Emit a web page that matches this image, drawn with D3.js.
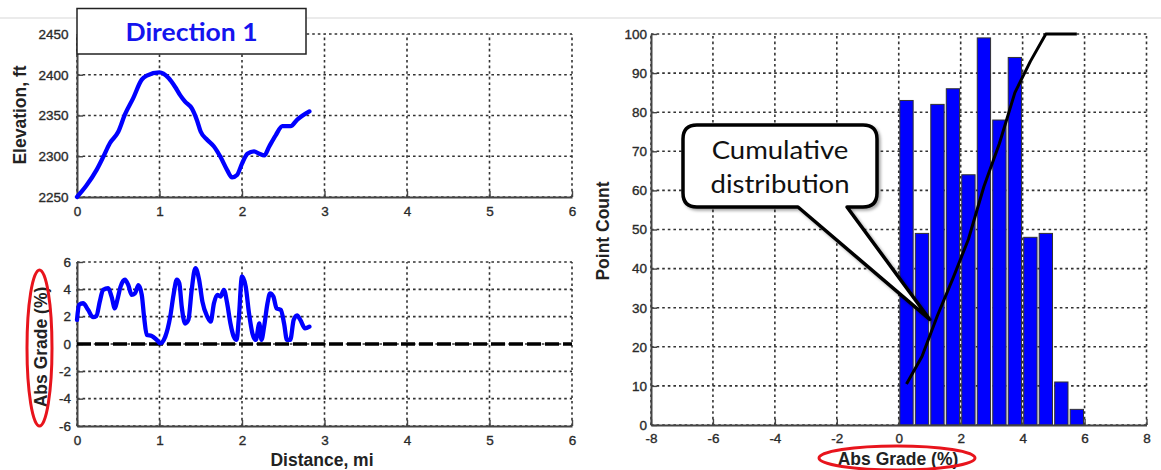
<!DOCTYPE html>
<html><head><meta charset="utf-8">
<script src="https://cdn.jsdelivr.net/npm/d3@7"></script>
<style>body{margin:0;background:#fff} svg{display:block}</style>
</head><body><svg id="c" width="1161" height="470"></svg>
<script>
// ---- data ----
const elevDist = [0,0.114,0.236,0.317,0.398,0.5,0.58,0.68,0.785,0.846,1.0,1.11,1.19,1.25,1.31,1.39,1.455,1.5,1.58,1.66,1.74,1.82,1.88,1.94,2.0,2.065,2.146,2.21,2.27,2.33,2.41,2.49,2.59,2.67,2.817];
const elevFt   = [2250,2264,2283,2299,2316,2330,2351,2371,2394,2399,2403,2396,2385,2375,2367,2359,2344,2330,2320,2312,2299,2283,2274,2277,2291,2303,2306,2303,2301,2312,2326,2337,2337,2345,2355];
const gradeDist = [0,0.024,0.073,0.134,0.195,0.236,0.276,0.317,0.378,0.419,0.459,0.488,0.528,0.581,0.622,0.663,0.703,0.744,0.785,0.813,0.846,0.906,0.967,1.008,1.07,1.13,1.17,1.21,1.24,1.27,1.31,1.35,1.39,1.435,1.48,1.52,1.58,1.62,1.66,1.70,1.74,1.78,1.82,1.86,1.90,1.935,1.96,2.0,2.045,2.085,2.126,2.167,2.21,2.236,2.268,2.309,2.34,2.38,2.42,2.47,2.51,2.545,2.585,2.626,2.667,2.707,2.764,2.817];
const gradePct  = [1.76,2.86,2.98,2.5,1.96,2.05,3.1,3.96,4.08,3.47,2.6,3.2,4.2,4.7,4.3,3.6,3.7,4.3,3.6,2.0,0.66,0.59,0.3,0.05,0.54,2.0,3.6,4.7,4.45,2.7,1.5,1.76,3.96,5.55,4.7,3.1,2.0,1.64,2.98,3.6,3.47,3.96,2.98,1.5,0.54,0.3,1.76,4.94,4.2,2.25,0.78,0.3,1.5,0.3,1.27,2.98,3.7,3.47,2.6,2.5,1.5,0.3,0.3,1.76,2.1,1.76,1.15,1.27];
const zeroLine = [0,6];
const histCenters = [0.25,0.75,1.25,1.75,2.25,2.75,3.25,3.75,4.25,4.75,5.25,5.75];
const histCounts  = [83,49,82,86,64,99,78,94,48,49,11,4];
const cumPct      = [10.5,17.5,28,37.5,47.5,61,72,85,93,100,100,100];
const distTicks  = [0,1,2,3,4,5,6];
const elevTicks  = [2250,2300,2350,2400,2450];
const gradeTicks = [-6,-4,-2,0,2,4,6];
const absTicks   = [-8,-6,-4,-2,0,2,4,6,8];
const countTicks = [0,10,20,30,40,50,60,70,80,90,100];

// ---- setup ----
const svg = d3.select('#c');
const TICKFONT = '13.5px "Liberation Sans", Arial, sans-serif';
const LABELFONT = 'bold 17.5px "Liberation Sans", Arial, sans-serif';

const defs = svg.append('defs');
const f = defs.append('filter').attr('id','shadow').attr('x','-20%').attr('y','-20%').attr('width','140%').attr('height','140%');
f.append('feDropShadow').attr('dx',2).attr('dy',2).attr('stdDeviation',1.5).attr('flood-color','#000').attr('flood-opacity',0.35);

// top gray page line
svg.append('line').attr('x1',0).attr('x2',1161).attr('y1',18).attr('y2',18)
  .attr('stroke','#d8d8d8').attr('stroke-width',1.2);

function grid(g, x, y, xt, yt) {
  const [x0,x1] = x.range(), [y0,y1] = y.range();
  g.append('g').selectAll('line').data(xt).join('line')
    .attr('x1',d=>x(d)).attr('x2',d=>x(d)).attr('y1',y0).attr('y2',y1)
    .attr('stroke','#333').attr('stroke-width',1.6).attr('stroke-dasharray','2.6,3');
  g.append('g').selectAll('line').data(yt).join('line')
    .attr('y1',d=>y(d)).attr('y2',d=>y(d)).attr('x1',x0).attr('x2',x1)
    .attr('stroke','#333').attr('stroke-width',1.6).attr('stroke-dasharray','2.6,3');
}
function axes(g, x, y, xt, yt, xpad, ypad) {
  const [y0] = y.range(); const [x0] = x.range();
  const ax = g.append('g').attr('transform',`translate(0,${y0})`)
    .call(d3.axisBottom(x).tickValues(xt).tickSize(-6).tickSizeOuter(0).tickPadding(xpad).tickFormat(d3.format('')));
  const ay = g.append('g').attr('transform',`translate(${x0},0)`)
    .call(d3.axisLeft(y).tickValues(yt).tickSize(-6).tickSizeOuter(0).tickPadding(ypad).tickFormat(d3.format('')));
  [ax,ay].forEach(a=>{
    a.select('.domain').attr('stroke','#444').attr('stroke-width',2);
    a.selectAll('.tick line').attr('stroke','#444').attr('stroke-width',1.4);
    a.selectAll('.tick text').style('font',TICKFONT).attr('fill','#2a2a2a')
      .attr('stroke','#2a2a2a').attr('stroke-width',0.35);
  });
  ax.selectAll('.tick text').text(d=>d<0?'-'+Math.abs(d):d);
  ay.selectAll('.tick text').text(d=>d<0?'-'+Math.abs(d):d);
}
function vlabel(txt, cx, cy) {
  svg.append('text').attr('transform',`translate(${cx},${cy}) rotate(-90)`)
    .attr('text-anchor','middle').attr('dy','0.36em').style('font',LABELFONT).attr('fill','#222').text(txt);
}

// ---- top-left: elevation ----
const xE = d3.scaleLinear().domain([0,6]).range([77,572]);
const yE = d3.scaleLinear().domain([2250,2450]).range([197,34]);
const gE = svg.append('g');
grid(gE, xE, yE, distTicks, elevTicks);
axes(gE, xE, yE, distTicks, elevTicks, 9, 8.5);
gE.append('path').datum(elevDist.map((d,i)=>[d,elevFt[i]]))
  .attr('d', d3.line().x(d=>xE(d[0])).y(d=>yE(d[1])).curve(d3.curveMonotoneX))
  .attr('fill','none').attr('stroke','#0000ff').attr('stroke-width',4.3).attr('stroke-linejoin','round').attr('stroke-linecap','round');
vlabel('Elevation, ft', 20, 115);

// Direction 1 box
svg.append('rect').attr('x',77).attr('y',8.5).attr('width',229).attr('height',45.5)
  .attr('fill','#fff').attr('stroke','#222').attr('stroke-width',1.5);
svg.append('text').attr('transform','translate(191.5,32) scale(1.06,1)').attr('dy','0.35em').attr('text-anchor','middle')
  .style('font','bold 25px Lato, "Open Sans", sans-serif').attr('fill','#1414ee').text('Direction 1');

// ---- bottom-left: abs grade ----
const xG = d3.scaleLinear().domain([0,6]).range([77,572]);
const yG = d3.scaleLinear().domain([-6,6]).range([426,262]);
const gG = svg.append('g');
grid(gG, xG, yG, distTicks, gradeTicks);
axes(gG, xG, yG, distTicks, gradeTicks, 9, 6);
gG.append('line').attr('x1',xG(zeroLine[0])).attr('x2',xG(zeroLine[1])).attr('y1',yG(0)).attr('y2',yG(0))
  .attr('stroke','#000').attr('stroke-width',3.5).attr('stroke-dasharray','14,4');
gG.append('path').datum(gradeDist.map((d,i)=>[d,gradePct[i]]))
  .attr('d', d3.line().x(d=>xG(d[0])).y(d=>yG(d[1])).curve(d3.curveMonotoneX))
  .attr('fill','none').attr('stroke','#0000ff').attr('stroke-width',4.3).attr('stroke-linejoin','round').attr('stroke-linecap','round');
vlabel('Abs Grade (%)', 41, 347);
svg.append('ellipse').attr('cx',39.5).attr('cy',348).attr('rx',12.5).attr('ry',78)
  .attr('fill','none').attr('stroke','#e8141c').attr('stroke-width',3);
svg.append('text').attr('x',322).attr('y',460).attr('dy','0.36em').attr('text-anchor','middle')
  .style('font',LABELFONT).attr('fill','#222').text('Distance, mi');

// ---- right: histogram ----
const xH = d3.scaleLinear().domain([-8,8]).range([651,1146.5]);
const yH = d3.scaleLinear().domain([0,100]).range([425,34]);
const gH = svg.append('g');
grid(gH, xH, yH, absTicks, countTicks);
const bw = 0.43;
gH.append('g').selectAll('rect').data(histCenters).join('rect')
  .attr('x',d=>xH(d-bw/2)).attr('width',xH(bw)-xH(0))
  .attr('y',(d,i)=>yH(histCounts[i])).attr('height',(d,i)=>yH(0)-yH(histCounts[i]))
  .attr('fill','#0000ff').attr('stroke','#333').attr('stroke-width',1);
gH.append('path').datum(histCenters.map((d,i)=>[d,cumPct[i]]))
  .attr('d', d3.line().x(d=>xH(d[0])).y(d=>yH(d[1])))
  .attr('fill','none').attr('stroke','#000').attr('stroke-width',3).attr('stroke-linejoin','round');
axes(gH, xH, yH, absTicks, countTicks, 8.5, 4);
vlabel('Point Count', 603, 231);
svg.append('text').attr('x',898).attr('y',459).attr('dy','0.36em').attr('text-anchor','middle')
  .style('font',LABELFONT).attr('fill','#222').text('Abs Grade (%)');
svg.append('ellipse').attr('cx',897).attr('cy',458).attr('rx',78).attr('ry',12)
  .attr('fill','none').attr('stroke','#e8141c').attr('stroke-width',3);

// callout
const tipX = xH(1.0), tipY = yH(27);
const bx0=683, bx1=877, by0=125, by1=207, r=14, t0=798, t1=847;
const cp = `M${bx0+r},${by0} H${bx1-r} Q${bx1},${by0} ${bx1},${by0+r} V${by1-r} Q${bx1},${by1} ${bx1-r},${by1} H${t1} L${tipX},${tipY} L${t0},${by1} H${bx0+r} Q${bx0},${by1} ${bx0},${by1-r} V${by0+r} Q${bx0},${by0} ${bx0+r},${by0} Z`;
svg.append('path').attr('d',cp).attr('fill','#fff').attr('stroke','#000').attr('stroke-width',3.5)
  .attr('stroke-linejoin','round').attr('filter','url(#shadow)');
const ct = svg.append('text').attr('text-anchor','middle').attr('transform','translate(780,0) scale(1.08,1)')
  .style('font','25.5px Lato, "Open Sans", sans-serif').attr('fill','#111');
ct.append('tspan').attr('x',0).attr('y',159).text('Cumulative');
ct.append('tspan').attr('x',0).attr('y',193).text('distribution');
</script></body></html>
